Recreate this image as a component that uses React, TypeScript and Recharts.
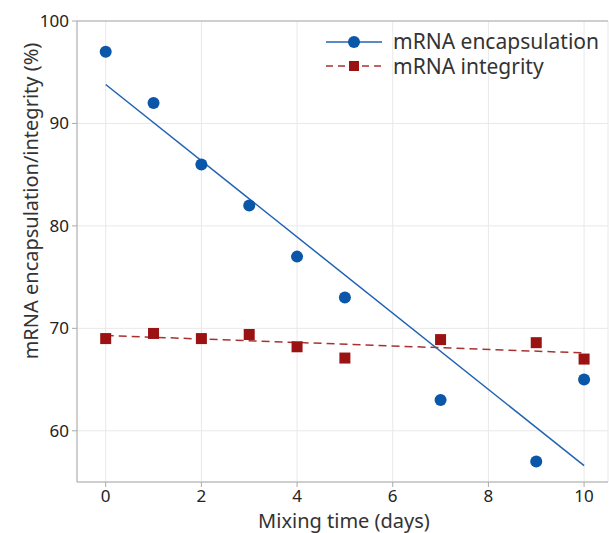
import React from 'react'
import {
  ComposedChart,
  Scatter,
  Line,
  XAxis,
  YAxis,
  CartesianGrid,
  ReferenceLine,
} from 'recharts'

const days = [0, 1, 2, 3, 4, 5, 7, 9, 10]
const encapsulation = [97, 92, 86, 82, 77, 73, 63, 57, 65]
const integrity = [69.0, 69.5, 69.0, 69.4, 68.2, 67.1, 68.9, 68.6, 67.0]

// fitted trend lines, end points
const trendDays = [0, 10]
const encapsulationTrend = [93.8, 56.6]
const integrityTrend = [69.3, 67.6]

const xTicks = [0, 2, 4, 6, 8, 10]
const yTicks = [60, 70, 80, 90, 100]

const BLUE = '#0a56a8'
const BLUE_LINE = '#1f63b3'
const RED = '#9b1212'
const RED_LINE = '#a83232'
const TEXT = '#333333'
const FONT = '"Noto Sans", "Open Sans", sans-serif'

const encPoints = days.map((d, i) => ({ x: d, y: encapsulation[i] }))
const intPoints = days.map((d, i) => ({ x: d, y: integrity[i] }))
const encTrend = trendDays.map((d, i) => ({ x: d, y: encapsulationTrend[i] }))
const intTrend = trendDays.map((d, i) => ({ x: d, y: integrityTrend[i] }))

const Dot = (p: any) => <circle cx={p.cx} cy={p.cy} r={6} fill={BLUE} />
const Square = (p: any) => (
  <rect x={p.cx - 5.5} y={p.cy - 5.5} width={11} height={11} fill={RED} />
)

function LegendBox() {
  return (
    <svg width={285} height={56} style={{ fontFamily: FONT, display: 'block' }}>
      <line x1={4} y1={14} x2={60} y2={14} stroke={BLUE_LINE} strokeWidth={1.5} />
      <circle cx={32} cy={14} r={6} fill={BLUE} />
      <text x={71} y={21} fontSize={21} fill={TEXT}>mRNA encapsulation</text>
      <line x1={4} y1={38} x2={60} y2={38} stroke={RED_LINE} strokeWidth={1.5} strokeDasharray="7 5" />
      <rect x={27} y={33} width={10} height={10} fill={RED} />
      <text x={71} y={46} fontSize={21} fill={TEXT}>mRNA integrity</text>
    </svg>
  )
}

export default function App() {
  return (
    <div style={{ position: 'absolute', left: 0, top: 0, width: 609, height: 533 }}>
      <ComposedChart
        width={609}
        height={533}
        margin={{ top: 21, right: 1, bottom: 0, left: 0 }}
        style={{ fontFamily: FONT }}
      >
        <CartesianGrid stroke="#e8e8e8" vertical horizontal />
        <XAxis
          dataKey="x"
          type="number"
          domain={[-0.6, 10.5]}
          ticks={xTicks}
          allowDataOverflow
          height={51}
          stroke="#aaaaaa"
          tickSize={5}
          tick={{ fill: '#222', fontSize: 17 }}
          tickMargin={3}
          label={{
            content: () => (
              <text x={344} y={528} textAnchor="middle" fontSize={20} fill={TEXT} fontFamily={FONT}>
                Mixing time (days)
              </text>
            ),
          }}
        />
        <YAxis
          dataKey="y"
          type="number"
          domain={[55, 100]}
          ticks={yTicks}
          allowDataOverflow
          width={77}
          stroke="#aaaaaa"
          tickSize={5}
          tick={{ fill: '#222', fontSize: 17 }}
          tickMargin={3}
          label={{
            content: () => (
              <text
                x={30}
                y={201}
                transform="rotate(-90 30 201)"
                textAnchor="middle"
                dominantBaseline="central"
                fontSize={20}
                fill={TEXT}
                fontFamily={FONT}
              >
                mRNA encapsulation/integrity (%)
              </text>
            ),
          }}
        />
        <ReferenceLine y={100} stroke="#aaaaaa" />
        <Line
          data={encTrend}
          dataKey="y"
          stroke={BLUE_LINE}
          strokeWidth={1.5}
          dot={false}
          activeDot={false}
          isAnimationActive={false}
        />
        <Line
          data={intTrend}
          dataKey="y"
          stroke={RED_LINE}
          strokeWidth={1.5}
          strokeDasharray="8 5"
          dot={false}
          activeDot={false}
          isAnimationActive={false}
        />
        <Scatter data={encPoints} dataKey="y" shape={Dot} isAnimationActive={false} />
        <Scatter data={intPoints} dataKey="y" shape={Square} isAnimationActive={false} />
      </ComposedChart>
      <div style={{ position: 'absolute', left: 322, top: 28 }}>
        <LegendBox />
      </div>
    </div>
  )
}
